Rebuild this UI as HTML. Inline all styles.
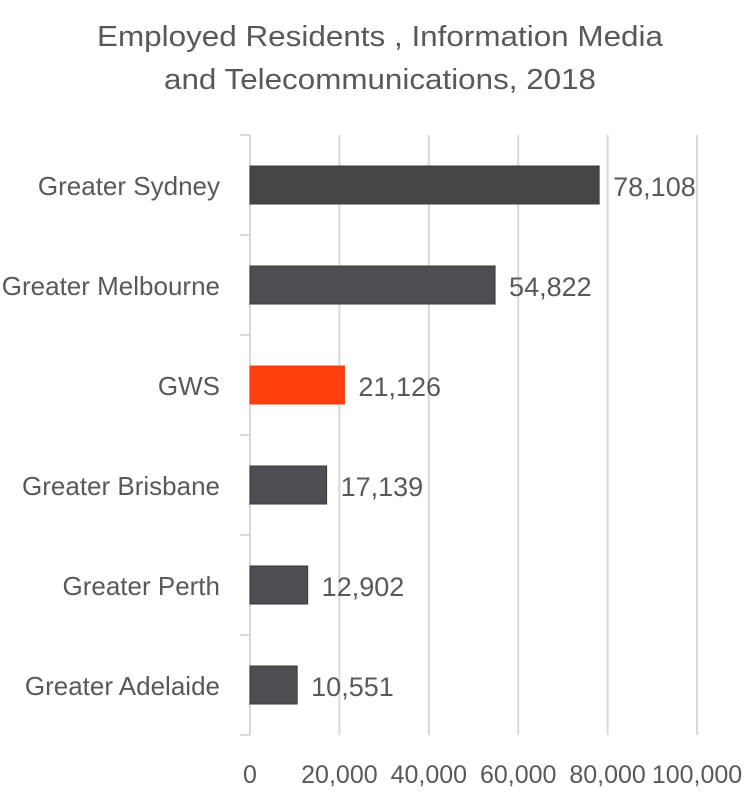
<!DOCTYPE html>
<html><head><meta charset="utf-8"><style>
body{margin:0;background:#fff;width:754px;height:795px;overflow:hidden;font-family:"Liberation Sans",Arial,sans-serif}
</style></head><body>
<svg id="chart" width="754" height="795" xmlns="http://www.w3.org/2000/svg">
<text x="380" y="46" text-anchor="middle" font-size="29" fill="#595959" textLength="566" lengthAdjust="spacingAndGlyphs">Employed Residents , Information  Media</text>
<text x="380" y="89" text-anchor="middle" font-size="29" fill="#595959" textLength="432" lengthAdjust="spacingAndGlyphs">and Telecommunications, 2018</text>
<g id="grid"></g><g id="bars"></g><g id="labels"></g>
</svg>
<script>
const categories=["Greater Sydney","Greater Melbourne","GWS","Greater Brisbane","Greater Perth","Greater Adelaide"];
const values=[78108,54822,21126,17139,12902,10551];
const ticks=[0,20000,40000,60000,80000,100000];
const tickLabels=["0","20,000","40,000","60,000","80,000","100,000"];
const NS="http://www.w3.org/2000/svg";
const x0=250,x1=697,topY=135,step=100;
const xs=v=>x0+(v/100000)*(x1-x0);
const yc=i=>topY+step*i+50;
function mk(t,a,p){const e=document.createElementNS(NS,t);for(const k in a)e.setAttribute(k,a[k]);p.appendChild(e);return e;}
const g=document.getElementById('grid'),b=document.getElementById('bars'),l=document.getElementById('labels');
const bottomY=topY+step*categories.length;
ticks.forEach((t,i)=>{
 if(i>0){const ln=mk('line',{x1:xs(t),x2:xs(t),y1:topY,y2:bottomY,stroke:'#d9d9d9','stroke-width':2},g);
 
 }
 const tx=mk('text',{x:xs(t),y:783,'text-anchor':'middle','font-size':25,fill:'#595959'},l);
 tx.textContent=tickLabels[i];
 
 
});
const ax=mk('line',{x1:x0,x2:x0,y1:topY,y2:bottomY,stroke:'#d9d9d9','stroke-width':2},g);


for(let i=0;i<=categories.length;i++){
 const tk=mk('line',{x1:x0-10,x2:x0,y1:topY+step*i,y2:topY+step*i,stroke:'#d9d9d9','stroke-width':2},g);
 
 
}
categories.forEach((c,i)=>{
 const col=c==="GWS"?"#ff3e0c":(i===0?"#454545":"#4f4d52");
 const r=mk('rect',{x:x0,y:yc(i)-19,width:xs(values[i])-x0,height:38,fill:col,stroke:c==="GWS"?"#f04010":"#3a3a3a",'stroke-width':1},b);
 
 
 const cl=mk('text',{x:220,y:yc(i)+10,'text-anchor':'end','font-size':26,fill:'#595959'},l);
 cl.textContent=c;
 
 
 const vl=mk('text',{x:xs(values[i])+14,y:yc(i)+11,'font-size':27,fill:'#595959'},l);
 vl.textContent=values[i].toLocaleString('en-US');
 
 
});
</script>
</body></html>
